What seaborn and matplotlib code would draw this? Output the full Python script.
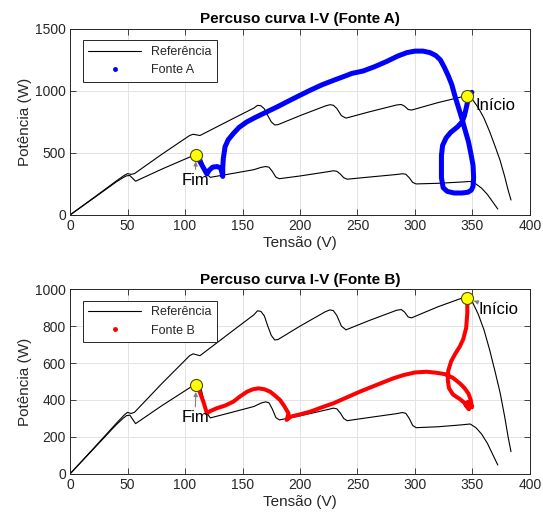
import numpy as np
import pandas as pd
import matplotlib
matplotlib.use("Agg")
import matplotlib.pyplot as plt
from matplotlib.lines import Line2D
import seaborn as sns

# ---------------- data ----------------
# Reference P-V curve 1 (upper)
ref1_v = [0, 20, 40, 47, 50, 53, 56, 80, 104, 107, 110, 113, 140, 160, 163, 166, 169, 172,
          175, 178, 181, 200, 222, 226, 229, 232, 236, 240, 260, 284, 288, 291, 294, 297, 320,
          340, 345, 350, 355, 360, 365, 370, 374, 378, 381, 383.5]
ref1_p = [0, 135, 272, 318, 333, 327, 333, 490, 640, 650, 645, 640, 768, 862, 883, 880, 855, 800,
          750, 725, 728, 800, 878, 888, 884, 858, 800, 780, 830, 886, 890, 876, 850, 845, 905,
          950, 962, 930, 865, 780, 670, 545, 440, 310, 200, 120]
# Reference P-V curve 2 (lower)
ref2_v = [0, 20, 40, 46, 49, 52, 55, 57, 80, 100, 107, 110, 112, 114, 117, 120, 122, 140, 160,
          166, 170, 173, 176, 179, 182, 200, 224, 229, 232, 235, 238, 241, 260, 284, 289, 292,
          295, 298, 301, 320, 340, 348, 353, 358, 363, 368, 372]
ref2_p = [0, 132, 265, 300, 315, 318, 290, 272, 370, 450, 478, 490, 486, 460, 380, 320, 303, 332,
          365, 383, 390, 385, 350, 305, 292, 314, 348, 356, 352, 330, 300, 288, 305, 326, 332,
          328, 300, 262, 250, 255, 265, 270, 250, 215, 165, 100, 48]

# Fonte A trajectory (from Inicio to Fim)
fa_v = [349.5, 347, 345, 343, 341, 337, 331, 327, 324, 323, 323, 323, 324.5, 328, 334, 341, 346,
        349, 350.5, 351, 350.5, 348.5, 346.5, 344, 341, 338, 335, 332, 329, 325.5, 322, 318,
        313, 307, 300, 293, 285, 275, 265, 255, 245, 240, 229, 219, 208.7, 198, 188.4, 180,
        171, 161, 153.6, 147, 142, 137.5, 134.8, 133.3, 132.8, 132.8, 132, 131, 128, 124, 121,
        119, 116, 113, 111, 110]
fa_p = [988, 965, 880, 800, 750, 710, 665, 620, 560, 480, 400, 300, 220, 190, 177, 177, 183,
        200, 230, 300, 400, 500, 590, 670, 770, 860, 950, 1050, 1120, 1190, 1250, 1285,
        1308, 1320, 1320, 1308, 1280, 1235, 1195, 1160, 1140, 1122, 1084, 1048, 1004, 955,
        910, 870, 830, 785, 749, 705, 656, 605, 549, 455, 380, 310, 345, 378, 390, 385, 360,
        330, 380, 430, 465, 487]

# Fonte B trajectory (from Inicio to Fim)
fb_v = [345.5, 345.5, 345.5, 344.5, 342, 339, 335, 331.5, 329, 328.5, 329.5, 333, 339, 343,
        345, 347, 344, 346, 349, 349.5, 348.5, 346.5, 343, 339, 333, 326, 318, 310, 300, 290,
        281, 270, 260, 252, 240, 229, 218, 209, 200, 192, 188.4, 190, 186, 182.6, 178, 174,
        169, 164, 159, 154, 148, 142, 135, 127.5, 122, 119, 116, 113, 110]
fb_p = [950, 910, 870, 790, 730, 690, 650, 610, 560, 510, 465, 430, 405, 385, 365, 350, 375,
        390, 372, 360, 400, 435, 465, 490, 520, 540, 548, 553, 549, 535, 517, 490, 465, 445,
        412, 382, 358, 337, 322, 310, 292, 328, 370, 400, 425, 445, 458, 463, 458, 445, 420,
        391, 370, 355, 340, 328, 390, 440, 481]

# markers (Inicio / Fim) per panel
mark_a_v = [345.5, 109.6]
mark_a_p = [962, 487]
mark_b_v = [345.5, 109.6]
mark_b_p = [950, 481]

x_ticks = [0, 50, 100, 150, 200, 250, 300, 350, 400]
y_ticks_a = [0, 500, 1000, 1500]
y_ticks_b = [0, 200, 400, 600, 800, 1000]

# ---------------- style ----------------
sns.set_theme(style="whitegrid")
plt.rcParams['font.family'] = ['Liberation Sans', 'DejaVu Sans']
dark = '#262626'

fig = plt.figure(figsize=(5.43, 5.23), dpi=100)
ax1 = fig.add_axes([0.129, 0.589, 0.847, 0.356])
ax2 = fig.add_axes([0.129, 0.094, 0.847, 0.353])

def style_axes(ax, yticks, ylim):
    ax.set_xlim(0, 400)
    ax.set_ylim(*ylim)
    ax.set_xticks(x_ticks)
    ax.set_yticks(yticks)
    ax.set_facecolor('white')
    ax.grid(True, color='#e3e3e3', linewidth=0.7)
    for s in ax.spines.values():
        s.set_visible(True)
        s.set_color(dark)
        s.set_linewidth(0.7)
    ax.tick_params(direction='in', length=4, width=0.6, colors=dark, labelsize=10,
                   top=True, right=True, bottom=True, left=True, pad=3)
    ax.set_xlabel('Tensão (V)', fontsize=11, color=dark, labelpad=2)
    ax.set_ylabel('Potência (W)', fontsize=11, color=dark, labelpad=2)

def draw(ax, pv, pp, color, lw, mv, mp, title, label, fim_txt, ini_txt, yticks, ylim):
    for rv, rp in ((ref1_v, ref1_p), (ref2_v, ref2_p)):
        d = pd.DataFrame({'v': rv, 'p': rp})
        sns.lineplot(data=d, x='v', y='p', sort=False, estimator=None, color='black',
                     linewidth=0.8, ax=ax)
    d = pd.DataFrame({'v': pv, 'p': pp})
    sns.lineplot(data=d, x='v', y='p', sort=False, estimator=None, color=color,
                 linewidth=lw, ax=ax, solid_capstyle='round', solid_joinstyle='round')
    dm = pd.DataFrame({'v': mv, 'p': mp})
    sns.scatterplot(data=dm, x='v', y='p', color='#ffff00', edgecolor='#4d4d00',
                    linewidth=0.8, s=75, ax=ax, zorder=5)
    # annotations
    ax.annotate('Fim', xy=(mv[1], mp[1]), xytext=fim_txt, ha='center', va='center',
                fontsize=12, color='black',
                arrowprops=dict(arrowstyle='-|>', color='#808080', lw=0.8,
                                shrinkA=0, shrinkB=5, mutation_scale=6))
    ax.annotate('Início', xy=(mv[0], mp[0]), xytext=ini_txt, ha='left', va='center',
                fontsize=12, color='black',
                arrowprops=dict(arrowstyle='-|>', color='#808080', lw=0.8,
                                shrinkA=0, shrinkB=5, mutation_scale=6))
    style_axes(ax, yticks, ylim)
    ax.set_title(title, fontsize=11, fontweight='bold', color='black', pad=4)
    handles = [Line2D([0], [0], color='black', lw=0.8),
               Line2D([0], [0], color=color, lw=0, marker='.', markersize=5)]
    leg = ax.legend(handles, ['Referência', label], loc='upper left', fontsize=9,
                    frameon=True, fancybox=False, edgecolor=dark, framealpha=1,
                    handlelength=4.2, borderpad=0.45, labelspacing=0.5,
                    borderaxespad=0, bbox_to_anchor=(0.0276, 0.937))
    leg.get_frame().set_linewidth(0.7)

draw(ax1, fa_v, fa_p, '#0000ff', 3.6, mark_a_v, mark_a_p, 'Percuso curva I-V (Fonte A)',
     'Fonte A', (108.7, 281), (353, 884), y_ticks_a, (0, 1500))
draw(ax2, fb_v, fb_p, '#ff0000', 2.9, mark_b_v, mark_b_p, 'Percuso curva I-V (Fonte B)',
     'Fonte B', (108.7, 305), (355, 889), y_ticks_b, (0, 1000))

fig.savefig('out.png', dpi=100)
